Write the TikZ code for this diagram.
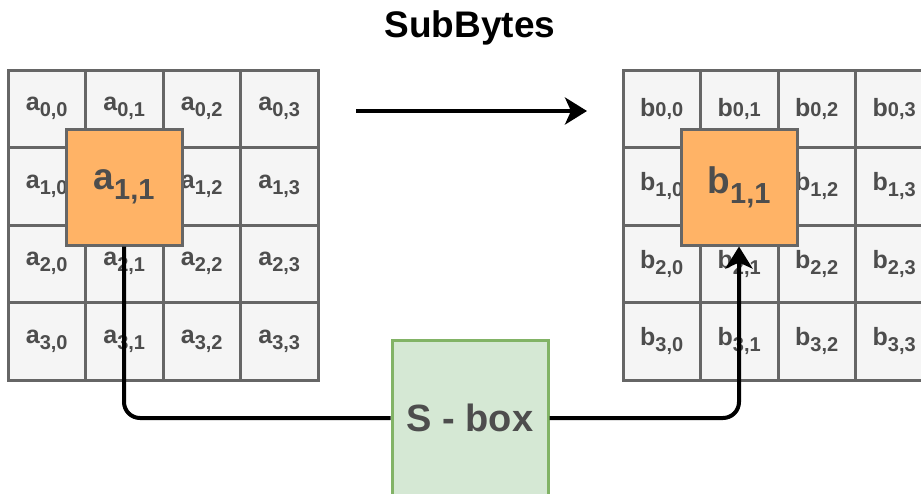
\documentclass[tikz,border=0pt]{standalone}
\usepackage{fontspec}
\setmainfont{Liberation Sans}
\usetikzlibrary{arrows.meta}
\definecolor{cellfill}{HTML}{F5F5F5}
\definecolor{cellline}{HTML}{666666}
\definecolor{celltext}{HTML}{4D4D4D}
\definecolor{pickfill}{HTML}{FFB366}
\definecolor{sboxfill}{HTML}{D5E8D4}
\definecolor{sboxline}{HTML}{82B366}
\newcommand{\idx}[3]{\raisebox{#2}{\fontsize{#1}{#1}\selectfont #3}}
\begin{document}
\begin{tikzpicture} [x = 1pt, y = -1pt,
	cell/.style = {draw = cellline, fill = cellfill, line width = 3pt, minimum size = 77.5pt, inner sep = 0pt, text = celltext, font = \bfseries\fontsize{25}{25}\selectfont},
	pick/.style = {cell, fill = pickfill, minimum size = 116pt, font = \bfseries\fontsize{37}{37}\selectfont},
	link/.style = {line width = 4pt, rounded corners = 16pt},
	tip/.style = {-{Stealth[length = 22pt, width = 27pt, inset = 6pt]}}]
	\useasboundingbox (0,0) rectangle (921,493);
	\clip (0,0) rectangle (921,493);
	\node [font = \bfseries\fontsize{37}{37}\selectfont] (title) at (470,28) {SubBytes};
	\foreach \r in {0,...,3}
		\foreach \c in {0,...,3} {
			\ifnum\r\c=11
				\node [cell] (a\r\c) at ({46.75 + 77.5*\c}, {108.75 + 77.5*\r}) {};
				\node [cell] (b\r\c) at ({661.75 + 77.5*\c}, {108.75 + 77.5*\r}) {};
			\else
				\node [cell] (a\r\c) at ({46.75 + 77.5*\c}, {108.75 + 77.5*\r}) {a\idx{20}{-6pt}{\r,\c}};
				\node [cell] (b\r\c) at ({661.75 + 77.5*\c}, {108.75 + 77.5*\r}) {b\ifnum\r=0 \idx{20}{0pt}{\r,\c}\else\idx{20}{-6pt}{\r,\c}\fi};
			\fi
		}
	\node [pick] (abig) at (124,187) {a\idx{29}{-10pt}{1,1}};
	\node [pick] (bbig) at (739,187) {b\idx{29}{-10pt}{1,1}};
	\node [cell, draw = sboxline, fill = sboxfill, minimum size = 156pt, font = \bfseries\fontsize{38}{38}\selectfont] (sbox) at (470,418) {S - box};
	\coordinate (from) at (356,111);
	\coordinate (to) at (587,111);
	\draw [link, tip] (from) -- (to);
	\draw [link] (abig.south) |- (sbox.west);
	\draw [link, tip] (sbox.east) -| (bbig.south);
\end{tikzpicture}
\end{document}
